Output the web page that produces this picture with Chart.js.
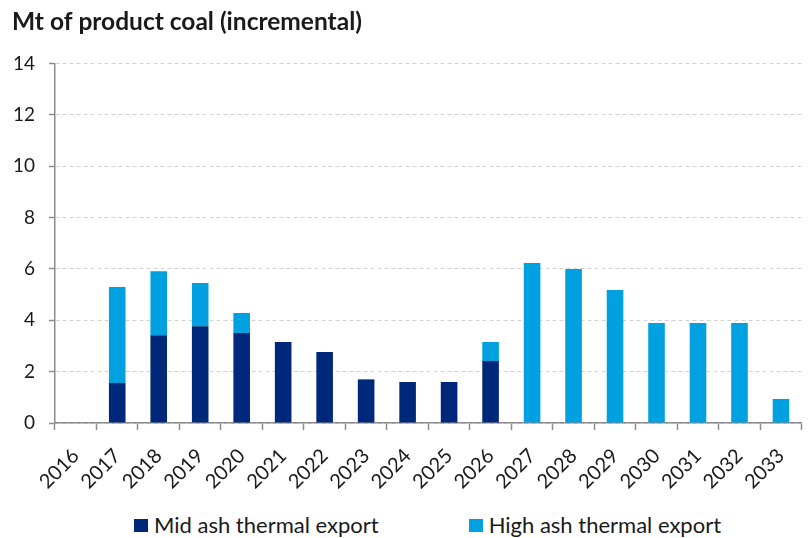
<!DOCTYPE html>
<html>
<head>
<meta charset="utf-8">
<script src="https://cdn.jsdelivr.net/npm/chart.js@4.4.1/dist/chart.umd.min.js"></script>
<style>
    body { margin: 0; background: #fff; }
    #wrap { position: relative; width: 812px; height: 538px; }
    #chart-box { position: absolute; left: 0; top: 0; width: 812px; height: 495px; }
    #legend { position: absolute; left: 134px; top: 511px; display: flex; gap: 90px;
        font-family: Lato, sans-serif; font-size: 22px; color: #1a1a1a; }
    #legend .item { display: flex; align-items: center; white-space: nowrap; }
    #legend .box { width: 14px; height: 13px; margin-right: 6px; margin-top: 2px; }
</style>
</head>
<body>
<div id="wrap">
    <div id="chart-box"><canvas id="coal-chart"></canvas></div>
    <div id="legend"></div>
</div>
<script>
const years = ['2016', '2017', '2018', '2019', '2020', '2021', '2022', '2023', '2024',
    '2025', '2026', '2027', '2028', '2029', '2030', '2031', '2032', '2033'];
const midAsh = [0, 1.56, 3.42, 3.77, 3.50, 3.15, 2.76, 1.67, 1.60, 1.60, 2.41, 0, 0, 0, 0, 0, 0, 0];
const highAsh = [0, 3.73, 2.49, 1.68, 0.78, 0, 0, 0.04, 0, 0, 0.74, 6.23, 6.00, 5.18, 3.89, 3.89, 3.89, 0.93];
const seriesNames = ['Mid ash thermal export', 'High ash thermal export'];
const yTicks = [0, 2, 4, 6, 8, 10, 12, 14];

const colors = {
    mid: '#00287A',
    high: '#00A0E1'
};

// legend drawn as html so spacing can match the original
const htmlLegend = {
    id: 'htmlLegend',
    afterUpdate(chart) {
        const el = document.getElementById('legend');
        el.innerHTML = '';
        chart.data.datasets.forEach(ds => {
            const item = document.createElement('div');
            item.className = 'item';
            const box = document.createElement('span');
            box.className = 'box';
            box.style.background = ds.backgroundColor;
            const txt = document.createElement('span');
            txt.textContent = ds.label;
            item.appendChild(box);
            item.appendChild(txt);
            el.appendChild(item);
        });
    }
};

function renderChart() {
    const ctx = document.getElementById('coal-chart');

    const data = {
        labels: years,
        datasets: [
            {
                label: seriesNames[0],
                data: midAsh,
                backgroundColor: colors.mid,
                barPercentage: 0.8,
                categoryPercentage: 0.5
            },
            {
                label: seriesNames[1],
                data: highAsh,
                backgroundColor: colors.high,
                barPercentage: 0.8,
                categoryPercentage: 0.5
            }
        ]
    };

    const config = {
        type: 'bar',
        data: data,
        options: {
            responsive: true,
            maintainAspectRatio: false,
            animation: false,
            layout: {
                padding: { left: 12, right: 2, top: 0, bottom: 0 }
            },
            plugins: {
                legend: { display: false },
                tooltip: { enabled: false },
                title: {
                    display: true,
                    align: 'start',
                    text: 'Mt of product coal (incremental)',
                    color: '#1a1a1a',
                    font: { family: 'Lato', size: 24.5, weight: 'bold', lineHeight: 1.2 },
                    padding: { top: 7, bottom: 27 }
                }
            },
            scales: {
                x: {
                    stacked: true,
                    afterFit: (scale) => { scale.height = 72; },
                    grid: {
                        display: true,
                        drawOnChartArea: false,
                        offset: true,
                        tickLength: 7,
                        tickColor: '#8c8c8c',
                        tickWidth: 1.5
                    },
                    border: { color: '#8c8c8c', width: 1.5 },
                    ticks: {
                        minRotation: 45,
                        maxRotation: 45,
                        autoSkip: false,
                        padding: 14,
                        color: '#1a1a1a',
                        font: { family: 'Lato', size: 20 }
                    }
                },
                y: {
                    stacked: true,
                    min: 0,
                    max: 14,
                    afterFit: (scale) => { scale.width = 43; },
                    afterBuildTicks: (scale) => {
                        scale.ticks = yTicks.map(v => ({ value: v }));
                    },
                    grid: {
                        color: '#d4d4d4',
                        lineWidth: 1,
                        tickLength: 6,
                        tickColor: '#8c8c8c',
                        tickWidth: 1.5
                    },
                    border: { color: '#8c8c8c', width: 1.5, dash: [4, 3] },
                    ticks: {
                        padding: 14,
                        color: '#1a1a1a',
                        font: { family: 'Lato', size: 19 }
                    }
                }
            }
        },
        plugins: [htmlLegend]
    };

    new Chart(ctx, config);
}

renderChart();
</script>
</body>
</html>
